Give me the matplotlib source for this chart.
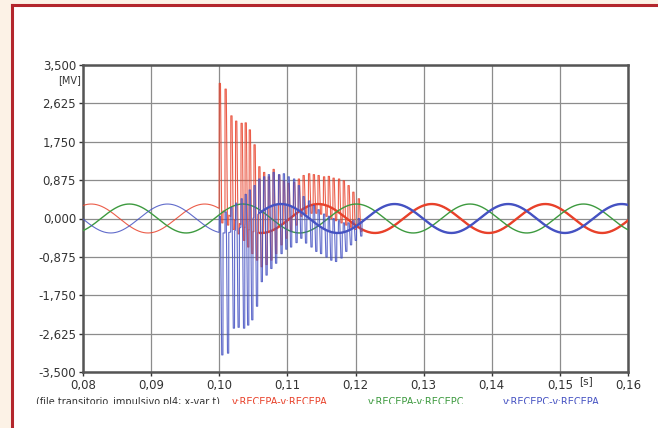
import numpy as np
import matplotlib
matplotlib.use("Agg")
import matplotlib.pyplot as plt
from matplotlib.patches import Rectangle
from matplotlib.transforms import Bbox

# --- valores (ATP, tensões em MV) ---
freq = 60.0            # Hz
amp = 0.33             # MV, amplitude em regime
t_peak_a = 0.0812      # instante de pico de cada fase (s)
t_peak_b = 0.0868
t_peak_c = 0.0924

# instantes dos surtos (s) e valores extremos lidos (MV)
spike_t = [0.1000, 0.10085, 0.1017, 0.1024, 0.1032, 0.1038, 0.1044, 0.1051,
           0.1058, 0.1065, 0.1072, 0.1079, 0.1087, 0.1094, 0.1101, 0.1109,
           0.1116, 0.1123, 0.1131, 0.1138, 0.1145, 0.1153, 0.1160, 0.1167,
           0.1175, 0.1182, 0.1189, 0.1196, 0.1204]
red_hi = [3.08, 2.95, 2.34, 2.22, 2.17, 2.18, 2.02, 1.68, 1.18, 1.05, 0.95,
          1.12, 0.99, 0.85, 0.80, 0.82, 0.90, 0.98, 1.02, 1.00, 0.98, 0.95,
          0.96, 0.92, 0.90, 0.86, 0.75, 0.60, 0.45]
red_lo = [-0.10, -0.15, -0.25, -0.35, -0.50, -0.65, -0.80, -0.95, -1.10,
          -1.05, -0.95, -0.80, -0.60, -0.45, -0.30, -0.15, 0.05, 0.10, 0.12,
          0.12, 0.10, 0.05, 0.00, -0.05, -0.10, -0.15, -0.20, -0.25, -0.30]
blue_hi = [0.05, 0.15, 0.25, 0.35, 0.45, 0.55, 0.65, 0.75, 0.90, 0.95, 1.00,
           1.05, 1.00, 1.02, 0.95, 0.90, 0.75, 0.50, 0.40, 0.30, 0.20, 0.10,
           0.05, 0.00, -0.05, -0.10, -0.10, -0.05, 0.00]
blue_lo = [-3.11, -3.07, -2.50, -2.48, -2.50, -2.43, -2.31, -2.00, -1.44,
           -1.29, -1.14, -1.02, -0.80, -0.70, -0.65, -0.55, -0.45, -0.56,
           -0.65, -0.75, -0.80, -0.88, -0.95, -0.98, -0.90, -0.75, -0.60,
           -0.50, -0.40]

y_ticks = [-3.5, -2.625, -1.75, -0.875, 0.0, 0.875, 1.75, 2.625, 3.5]
x_ticks = [0.08, 0.09, 0.10, 0.11, 0.12, 0.13, 0.14, 0.15, 0.16]

labels = ["v:RECEPA-v:RECEPA", "v:RECEPA-v:RECEPC", "v:RECEPC-v:RECEPA"]
colors = ["#e8412a", "#3d9a3f", "#4552c2"]


def regime(t, t_peak):
    return amp * np.cos(2 * np.pi * freq * (t - t_peak))


def com_surtos(t, base, hi, lo, w=0.00018, gap=0.00036):
    # insere os picos lidos (topo curto) na forma de onda de regime
    st = np.array(spike_t)
    ts = np.concatenate([t, st, st + w, st + gap, st + gap + w])
    vs = np.concatenate([base, hi, hi, lo, lo])
    # retira a onda de regime dentro de cada surto
    keep = np.ones(len(ts), bool)
    for s in st:
        keep[:len(t)] &= ~((t > s - 1e-6) & (t < s + gap + w + 1e-6))
    ts, vs = ts[keep], vs[keep]
    order = np.argsort(ts, kind="stable")
    return ts[order], vs[order]


t = np.linspace(0.08, 0.16, 4001)
ta, va = com_surtos(t, regime(t, t_peak_a), red_hi, red_lo)
tc, vc = com_surtos(t, regime(t, t_peak_c), blue_hi, blue_lo)
vb = regime(t, t_peak_b)

W, H = 658, 428
fig = plt.figure(figsize=(W / 100, H / 100), dpi=100)
fig.patch.set_facecolor("#fcf2e6")

# fundo branco e moldura vermelha
fig.patches.append(Rectangle((13 / W, 0), 1, 1 - 7 / H, transform=fig.transFigure,
                             facecolor="white", edgecolor="none", zorder=-5))
fig.add_artist(plt.Line2D([12 / W, 12 / W], [0, 1 - 5 / H], transform=fig.transFigure,
                          color="#b3262c", lw=2.2))
fig.add_artist(plt.Line2D([12 / W, 1], [1 - 5 / H, 1 - 5 / H], transform=fig.transFigure,
                          color="#b3262c", lw=2.2))

ax = fig.add_axes([83 / W, 1 - 372 / H, (628 - 83) / W, (372 - 65) / H])
ax.set_zorder(2)
ax.set_facecolor("white")

ax.plot(ta, va, color=colors[0], lw=0.8, alpha=0.85, zorder=3)
ax.plot(t, vb, color=colors[1], lw=1.0, zorder=4)
ax.plot(tc, vc, color=colors[2], lw=0.8, alpha=0.85, zorder=5)
# aspecto "peludo" do ruído depois do surto
m = t > 0.106
ax.plot(t[m], regime(t[m], t_peak_a), color=colors[0], lw=1.7, zorder=3)
ax.plot(t[m], regime(t[m], t_peak_c), color=colors[2], lw=1.7, zorder=5)

ax.set_xlim(0.08, 0.16)
ax.set_ylim(-3.5, 3.5)
ax.set_xticks(x_ticks)
ax.set_yticks(y_ticks)
ax.set_xticklabels([f"{v:.2f}".replace(".", ",") for v in x_ticks])
ax.set_yticklabels([f"{v:.3f}".replace(".", ",") for v in y_ticks])
ax.tick_params(labelsize=8.5, colors="#333333", length=3, width=1, pad=2)
ax.grid(True, color="#8c8c8c", lw=0.9)
for s in ax.spines.values():
    s.set_color("#555555")
    s.set_linewidth(1.8)

fig.text(70 / W, 1 - 80 / H, "[MV]", fontsize=7, color="#333333",
         ha="center", va="center", zorder=6)
fig.text(586 / W, 1 - 381 / H, "[s]", fontsize=7.5, color="#333333",
         ha="center", va="center", zorder=6)

# legenda inferior, cortada na imagem original
clip = Bbox([[0, H - 404], [W, H]])
parts = [("(file transitorio_impulsivo.pl4; x-var t)", "#333333", 36),
         (labels[0], colors[0], 232), (labels[1], colors[1], 368),
         (labels[2], colors[2], 503)]
for txt, c, x in parts:
    tt = fig.text(x / W, 1 - 402 / H, txt, fontsize=7, color=c,
                  ha="left", va="center", zorder=6)
    tt.set_clip_box(clip)
    tt.set_clip_on(True)

fig.savefig("out.png", dpi=100, facecolor=fig.get_facecolor())
